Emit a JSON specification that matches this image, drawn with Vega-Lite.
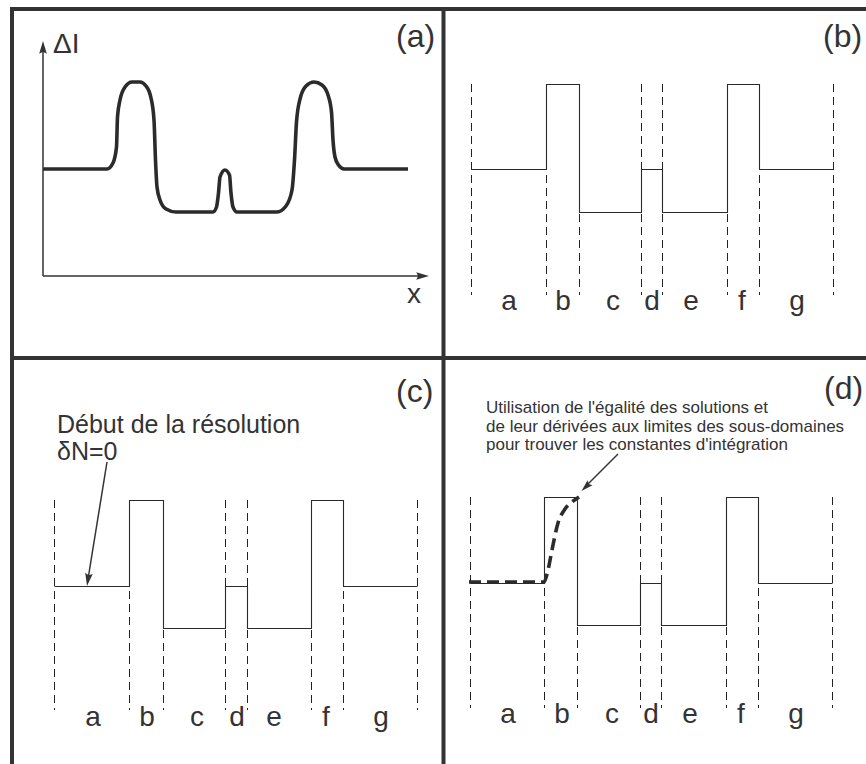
{
  "$schema": "https://vega.github.io/schema/vega-lite/v6.json",
  "width": 866,
  "height": 764,
  "autosize": {"type": "none"},
  "padding": 0,
  "background": "white",
  "config": {"view": {"stroke": null}},
  "datasets": {
    "borders": [
      {"x": 12, "y": 9, "x2": 866, "y2": 9},
      {"x": 12, "y": 9, "x2": 12, "y2": 764},
      {"x": 443.5, "y": 9, "x2": 443.5, "y2": 764},
      {"x": 12, "y": 358, "x2": 866, "y2": 358}
    ],
    "bounds": [
      {"panel": "b", "x": 471, "y": 84, "y2": 295},
      {"panel": "b", "x": 546, "y": 84, "y2": 295},
      {"panel": "b", "x": 579, "y": 84, "y2": 295},
      {"panel": "b", "x": 641, "y": 84, "y2": 295},
      {"panel": "b", "x": 662, "y": 84, "y2": 295},
      {"panel": "b", "x": 727, "y": 84, "y2": 295},
      {"panel": "b", "x": 759, "y": 84, "y2": 295},
      {"panel": "b", "x": 833, "y": 84, "y2": 295},
      {"panel": "c", "x": 54, "y": 500, "y2": 710},
      {"panel": "c", "x": 129, "y": 500, "y2": 710},
      {"panel": "c", "x": 163, "y": 500, "y2": 710},
      {"panel": "c", "x": 225, "y": 500, "y2": 710},
      {"panel": "c", "x": 247, "y": 500, "y2": 710},
      {"panel": "c", "x": 311, "y": 500, "y2": 710},
      {"panel": "c", "x": 343, "y": 500, "y2": 710},
      {"panel": "c", "x": 417, "y": 500, "y2": 710},
      {"panel": "d", "x": 470, "y": 497, "y2": 708},
      {"panel": "d", "x": 544, "y": 497, "y2": 708},
      {"panel": "d", "x": 577, "y": 497, "y2": 708},
      {"panel": "d", "x": 640, "y": 497, "y2": 708},
      {"panel": "d", "x": 661, "y": 497, "y2": 708},
      {"panel": "d", "x": 726, "y": 497, "y2": 708},
      {"panel": "d", "x": 758, "y": 497, "y2": 708},
      {"panel": "d", "x": 832, "y": 497, "y2": 708}
    ],
    "steps": [
      {"panel": "b", "i": 1, "x": 471, "y": 169}, {"panel": "b", "i": 2, "x": 546, "y": 169},
      {"panel": "b", "i": 3, "x": 546, "y": 84}, {"panel": "b", "i": 4, "x": 579, "y": 84},
      {"panel": "b", "i": 5, "x": 579, "y": 212}, {"panel": "b", "i": 6, "x": 641, "y": 212},
      {"panel": "b", "i": 7, "x": 641, "y": 169}, {"panel": "b", "i": 8, "x": 662, "y": 169},
      {"panel": "b", "i": 9, "x": 662, "y": 212}, {"panel": "b", "i": 10, "x": 727, "y": 212},
      {"panel": "b", "i": 11, "x": 727, "y": 84}, {"panel": "b", "i": 12, "x": 759, "y": 84},
      {"panel": "b", "i": 13, "x": 759, "y": 169}, {"panel": "b", "i": 14, "x": 833, "y": 169},
      {"panel": "c", "i": 1, "x": 54, "y": 586}, {"panel": "c", "i": 2, "x": 129, "y": 586},
      {"panel": "c", "i": 3, "x": 129, "y": 500}, {"panel": "c", "i": 4, "x": 163, "y": 500},
      {"panel": "c", "i": 5, "x": 163, "y": 628}, {"panel": "c", "i": 6, "x": 225, "y": 628},
      {"panel": "c", "i": 7, "x": 225, "y": 586}, {"panel": "c", "i": 8, "x": 247, "y": 586},
      {"panel": "c", "i": 9, "x": 247, "y": 628}, {"panel": "c", "i": 10, "x": 311, "y": 628},
      {"panel": "c", "i": 11, "x": 311, "y": 500}, {"panel": "c", "i": 12, "x": 343, "y": 500},
      {"panel": "c", "i": 13, "x": 343, "y": 586}, {"panel": "c", "i": 14, "x": 417, "y": 586},
      {"panel": "d", "i": 1, "x": 470, "y": 583}, {"panel": "d", "i": 2, "x": 544, "y": 583},
      {"panel": "d", "i": 3, "x": 544, "y": 497}, {"panel": "d", "i": 4, "x": 577, "y": 497},
      {"panel": "d", "i": 5, "x": 577, "y": 625}, {"panel": "d", "i": 6, "x": 640, "y": 625},
      {"panel": "d", "i": 7, "x": 640, "y": 583}, {"panel": "d", "i": 8, "x": 661, "y": 583},
      {"panel": "d", "i": 9, "x": 661, "y": 625}, {"panel": "d", "i": 10, "x": 726, "y": 625},
      {"panel": "d", "i": 11, "x": 726, "y": 497}, {"panel": "d", "i": 12, "x": 758, "y": 497},
      {"panel": "d", "i": 13, "x": 758, "y": 583}, {"panel": "d", "i": 14, "x": 832, "y": 583}
    ],
    "curve": [
      {"x": 43, "y": 169}, {"x": 107, "y": 169}, {"x": 113, "y": 163}, {"x": 116.5, "y": 147},
      {"x": 117.5, "y": 117}, {"x": 120, "y": 100}, {"x": 125, "y": 87}, {"x": 132, "y": 82},
      {"x": 140, "y": 82}, {"x": 146, "y": 86}, {"x": 151, "y": 98}, {"x": 154, "y": 120},
      {"x": 155.5, "y": 160}, {"x": 157, "y": 187}, {"x": 160, "y": 200}, {"x": 166, "y": 209},
      {"x": 176, "y": 212}, {"x": 213, "y": 212}, {"x": 216.5, "y": 207}, {"x": 218.5, "y": 193},
      {"x": 220, "y": 177}, {"x": 225, "y": 170}, {"x": 229.5, "y": 175}, {"x": 231, "y": 193},
      {"x": 233, "y": 207}, {"x": 237, "y": 212}, {"x": 277, "y": 212}, {"x": 286, "y": 206},
      {"x": 292, "y": 190}, {"x": 294.5, "y": 160}, {"x": 296.5, "y": 122}, {"x": 300, "y": 99},
      {"x": 306, "y": 86}, {"x": 314, "y": 82}, {"x": 322, "y": 85}, {"x": 328, "y": 95},
      {"x": 331.5, "y": 112}, {"x": 333, "y": 140}, {"x": 335, "y": 157}, {"x": 338.5, "y": 165},
      {"x": 344, "y": 169}, {"x": 408, "y": 169}
    ],
    "curve_d": [
      {"x": 469, "y": 582}, {"x": 544, "y": 582}, {"x": 548, "y": 570}, {"x": 552, "y": 550},
      {"x": 558, "y": 523}, {"x": 565, "y": 509}, {"x": 572, "y": 502}, {"x": 579, "y": 497}
    ],
    "axes_a": [
      {"x": 43, "y": 276, "x2": 43, "y2": 50},
      {"x": 43, "y": 276, "x2": 420, "y2": 276}
    ],
    "shafts": [
      {"x": 107, "y": 462, "x2": 88.5, "y2": 576},
      {"x": 618, "y": 454, "x2": 587, "y2": 485}
    ],
    "head_up": [{"x": 43, "y": 41}],
    "head_right": [{"x": 429, "y": 276}],
    "head_dn": [{"x": 87, "y": 586}],
    "head_d": [{"x": 581.5, "y": 491}],
    "panel_labels": [
      {"x": 396, "y": 47, "label": "(a)"},
      {"x": 823, "y": 47, "label": "(b)"},
      {"x": 396, "y": 402, "label": "(c)"},
      {"x": 824, "y": 399, "label": "(d)"}
    ],
    "seg_labels": [
      {"x": 509, "y": 310, "label": "a"}, {"x": 563, "y": 310, "label": "b"},
      {"x": 613, "y": 310, "label": "c"}, {"x": 652, "y": 310, "label": "d"},
      {"x": 691, "y": 310, "label": "e"}, {"x": 742, "y": 310, "label": "f"},
      {"x": 797, "y": 310, "label": "g"},
      {"x": 93, "y": 726, "label": "a"}, {"x": 147, "y": 726, "label": "b"},
      {"x": 197, "y": 726, "label": "c"}, {"x": 237, "y": 726, "label": "d"},
      {"x": 274, "y": 726, "label": "e"}, {"x": 326, "y": 726, "label": "f"},
      {"x": 381, "y": 726, "label": "g"},
      {"x": 508, "y": 723, "label": "a"}, {"x": 562, "y": 723, "label": "b"},
      {"x": 612, "y": 723, "label": "c"}, {"x": 651, "y": 723, "label": "d"},
      {"x": 690, "y": 723, "label": "e"}, {"x": 741, "y": 723, "label": "f"},
      {"x": 796, "y": 723, "label": "g"},
      {"x": 414, "y": 303, "label": "x"}
    ],
    "axis_title": [{"x": 53, "y": 53, "label": "ΔI"}],
    "note_c": [
      {"x": 57, "y": 433, "label": "Début de la résolution"},
      {"x": 57, "y": 460, "label": "δN=0"}
    ],
    "note_d": [
      {"x": 486, "y": 413, "label": "Utilisation de l'égalité des solutions et"},
      {"x": 486, "y": 432, "label": "de leur dérivées aux limites des sous-domaines"},
      {"x": 486, "y": 450, "label": "pour trouver les constantes d'intégration"}
    ]
  },
  "encoding": {
    "x": {"field": "x", "type": "quantitative", "scale": {"domain": [0, 866], "nice": false, "zero": false}, "axis": null},
    "y": {"field": "y", "type": "quantitative", "scale": {"domain": [0, 764], "reverse": true, "nice": false, "zero": false}, "axis": null}
  },
  "layer": [
    {
      "data": {"name": "bounds"},
      "mark": {"type": "rule", "color": "#222222", "strokeWidth": 1, "strokeDash": [8, 5], "xOffset": 0.5},
      "encoding": {"y2": {"field": "y2"}}
    },
    {
      "data": {"name": "steps"},
      "mark": {"type": "line", "color": "#2a2a2a", "strokeWidth": 1.1, "xOffset": 0.5, "yOffset": 0.5},
      "encoding": {"detail": {"field": "panel"}, "order": {"field": "i", "type": "quantitative"}}
    },
    {
      "data": {"name": "curve"},
      "mark": {"type": "line", "color": "#2b2b2b", "strokeWidth": 3.6, "interpolate": "monotone", "strokeCap": "butt"}
    },
    {
      "data": {"name": "curve_d"},
      "mark": {"type": "line", "color": "#2b2b2b", "strokeWidth": 3.6, "interpolate": "monotone", "strokeDash": [12, 6]}
    },
    {
      "data": {"name": "axes_a"},
      "mark": {"type": "rule", "color": "#333333", "strokeWidth": 1.5},
      "encoding": {"x2": {"field": "x2"}, "y2": {"field": "y2"}}
    },
    {
      "data": {"name": "shafts"},
      "mark": {"type": "rule", "color": "#333333", "strokeWidth": 1.5},
      "encoding": {"x2": {"field": "x2"}, "y2": {"field": "y2"}}
    },
    {
      "data": {"name": "head_up"},
      "mark": {"type": "point", "shape": "M0,0L-0.3,1L0,0.85L0.3,1Z", "filled": true, "color": "#333333", "opacity": 1, "size": 650, "angle": 0}
    },
    {
      "data": {"name": "head_right"},
      "mark": {"type": "point", "shape": "M0,0L-0.3,1L0,0.85L0.3,1Z", "filled": true, "color": "#333333", "opacity": 1, "size": 650, "angle": 90}
    },
    {
      "data": {"name": "head_dn"},
      "mark": {"type": "point", "shape": "M0,0L-0.3,1L0,0.85L0.3,1Z", "filled": true, "color": "#333333", "opacity": 1, "size": 650, "angle": 189}
    },
    {
      "data": {"name": "head_d"},
      "mark": {"type": "point", "shape": "M0,0L-0.3,1L0,0.85L0.3,1Z", "filled": true, "color": "#333333", "opacity": 1, "size": 560, "angle": 226}
    },
    {
      "data": {"name": "borders"},
      "mark": {"type": "rule", "color": "#333333", "strokeWidth": 4, "strokeCap": "square"},
      "encoding": {"x2": {"field": "x2"}, "y2": {"field": "y2"}}
    },
    {
      "data": {"name": "panel_labels"},
      "mark": {"type": "text", "font": "Liberation Sans", "fontSize": 32, "align": "left", "baseline": "alphabetic", "color": "#333333"},
      "encoding": {"text": {"field": "label"}}
    },
    {
      "data": {"name": "seg_labels"},
      "mark": {"type": "text", "font": "Liberation Sans", "fontSize": 28, "align": "center", "baseline": "alphabetic", "color": "#333333"},
      "encoding": {"text": {"field": "label"}}
    },
    {
      "data": {"name": "axis_title"},
      "mark": {"type": "text", "font": "Liberation Sans", "fontSize": 28, "align": "left", "baseline": "alphabetic", "color": "#333333"},
      "encoding": {"text": {"field": "label"}}
    },
    {
      "data": {"name": "note_c"},
      "mark": {"type": "text", "font": "Liberation Sans", "fontSize": 25, "align": "left", "baseline": "alphabetic", "color": "#333333"},
      "encoding": {"text": {"field": "label"}}
    },
    {
      "data": {"name": "note_d"},
      "mark": {"type": "text", "font": "Liberation Sans", "fontSize": 17, "align": "left", "baseline": "alphabetic", "color": "#333333"},
      "encoding": {"text": {"field": "label"}}
    }
  ]
}
